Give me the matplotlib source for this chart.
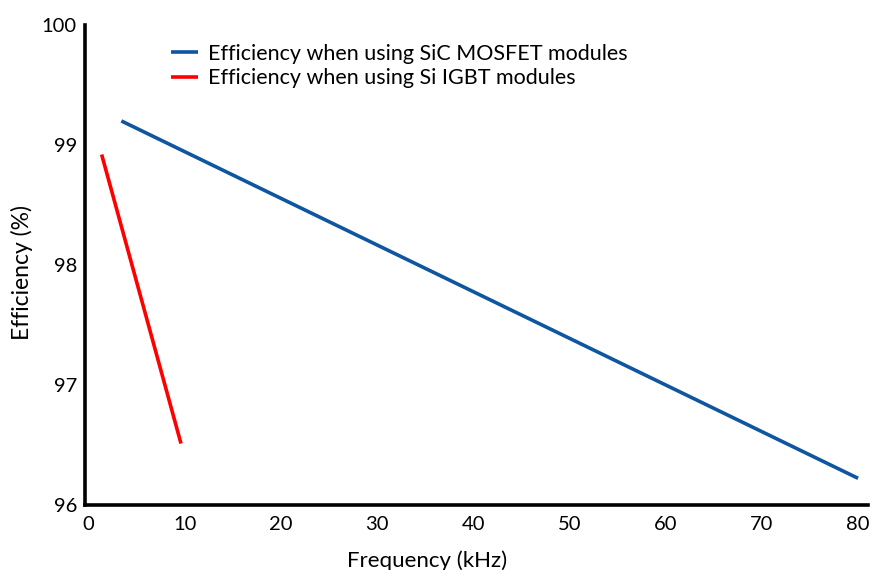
import matplotlib
matplotlib.use("Agg")
import matplotlib.pyplot as plt

plt.rcParams['font.family'] = ['Lato', 'DejaVu Sans']

sic_freq = [3.4, 80.0]
sic_eff = [99.20, 96.22]
si_freq = [1.35, 9.6]
si_eff = [98.92, 96.51]
xticks = [0, 10, 20, 30, 40, 50, 60, 70, 80]
yticks = [96, 97, 98, 99, 100]

fig = plt.figure(figsize=(8.72, 5.70), dpi=100)
ax = fig.add_axes([85.3/872, 1-504.7/570, (867.7-85.3)/872, (504.7-25)/570])

ax.plot(sic_freq, sic_eff, color='#0f56a0', lw=2.6, solid_capstyle='butt',
        label='Efficiency when using SiC MOSFET modules')
ax.plot(si_freq, si_eff, color='#ff0000', lw=2.6, solid_capstyle='butt',
        label='Efficiency when using Si IGBT modules')

ax.set_xlim(-0.35, 81.0)
ax.set_ylim(96, 100)
ax.set_xticks(xticks)
ax.set_yticks(yticks)
ax.tick_params(length=0, labelsize=14.5, colors='black')
ax.tick_params(axis='x', pad=8)
ax.tick_params(axis='y', pad=6)
for s in ['top', 'right']:
    ax.spines[s].set_visible(False)
for s in ['left', 'bottom']:
    ax.spines[s].set_linewidth(2.6)
    ax.spines[s].set_color('black')

fig.text(427/872, 1-567/570, 'Frequency (kHz)', ha='center', va='baseline', fontsize=16)
fig.text(22/872, 1-273/570, 'Efficiency (%)', ha='center', va='center', rotation=90, fontsize=16.5)

leg = ax.legend(loc='upper left', bbox_to_anchor=(171/872, 1-44/570), bbox_transform=fig.transFigure,
                frameon=False, fontsize=15.5, handlelength=1.26, handletextpad=0.47,
                labelspacing=0.2, borderaxespad=0, borderpad=0)

fig.savefig('out.png', dpi=100)
